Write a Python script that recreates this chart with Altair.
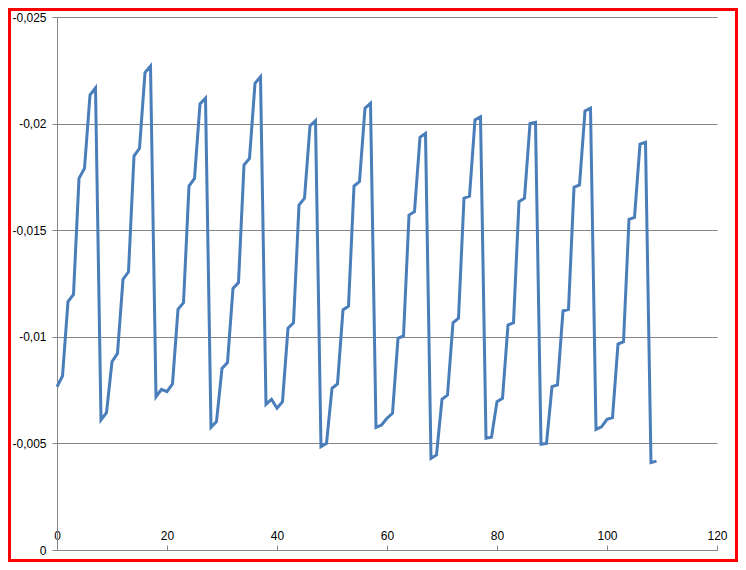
import altair as alt
import pandas as pd

x_vals = list(range(110))
y_vals = [
    -0.00766, -0.00816, -0.01165, -0.01199, -0.01743, -0.0179, -0.02134, -0.02168, -0.0061, -0.00644,
    -0.00883, -0.00922, -0.0127, -0.01305, -0.01848, -0.01884, -0.02239, -0.0227, -0.00719, -0.00754,
    -0.00743, -0.00779, -0.01129, -0.0116, -0.01707, -0.01743, -0.02092, -0.02119, -0.00575, -0.00602,
    -0.00852, -0.00879, -0.01227, -0.01254, -0.01806, -0.01837, -0.02189, -0.0222, -0.00683, -0.00707,
    -0.00665, -0.00696, -0.0104, -0.01066, -0.01618, -0.0165, -0.01989, -0.02014, -0.00485, -0.005,
    -0.00758, -0.00779, -0.01126, -0.01144, -0.01707, -0.01728, -0.02072, -0.02095, -0.00575, -0.00586,
    -0.00618, -0.00641, -0.00993, -0.01004, -0.01571, -0.01587, -0.01936, -0.01954, -0.0043, -0.00446,
    -0.00707, -0.00727, -0.01066, -0.01087, -0.0165, -0.0166, -0.02017, -0.02032, -0.00524, -0.00529,
    -0.00696, -0.00711, -0.01055, -0.01066, -0.01634, -0.0165, -0.02001, -0.02006, -0.00496, -0.005,
    -0.00766, -0.00774, -0.01121, -0.01129, -0.01701, -0.01712, -0.02059, -0.02072, -0.00566, -0.00578,
    -0.00613, -0.00621, -0.00966, -0.00977, -0.01551, -0.0156, -0.01904, -0.01912, -0.0041, -0.00417,
]
x_ticks = [0, 20, 40, 60, 80, 100, 120]
y_ticks = [0, -0.005, -0.01, -0.015, -0.02, -0.025]

df = pd.DataFrame({"x": x_vals, "y": y_vals})

W, H = 660, 533
FONT = "Liberation Sans"

line = alt.Chart(df).mark_line(color="#4a7ebb", strokeWidth=3).encode(
    x=alt.X(
        "x:Q",
        scale=alt.Scale(domain=[0, 120], nice=False, zero=False),
        axis=alt.Axis(
            orient="top", offset=-H, values=x_ticks, title=None, grid=False,
            domainColor="#868686", tickColor="#868686", tickSize=5,
            labelPadding=3, labelFont=FONT, labelFontSize=12, labelColor="#000000",
            labelFlush=False,
        ),
    ),
    y=alt.Y(
        "y:Q",
        scale=alt.Scale(domain=[-0.025, 0], reverse=True, nice=False, zero=False),
        axis=alt.Axis(
            values=y_ticks, title=None, grid=True, gridColor="#868686",
            domainColor="#868686", tickColor="#868686", tickSize=5,
            labelPadding=6, labelFont=FONT, labelFontSize=12, labelColor="#000000",
            labelExpr="replace(replace(format(datum.value, '~g'), '.', ','), '\u2212', '-')",
            labelFlush=False,
        ),
    ),
)

border = alt.Chart(alt.Data(values=[{"a": 1}])).mark_rect(
    filled=False, stroke="#ff0000", strokeWidth=3, clip=False
).encode(
    x=alt.value(-47.5), x2=alt.value(679.5), y=alt.value(-7.5), y2=alt.value(543.5)
)

chart = alt.layer(line, border).properties(
    width=W, height=H,
    autosize=alt.AutoSizeParams(type="none"),
    padding={"left": 49, "top": 9, "right": 21, "bottom": 12},
    background="white",
).configure_view(stroke=None)

chart.save("out.html", embed_options={"renderer": "svg", "actions": False})
